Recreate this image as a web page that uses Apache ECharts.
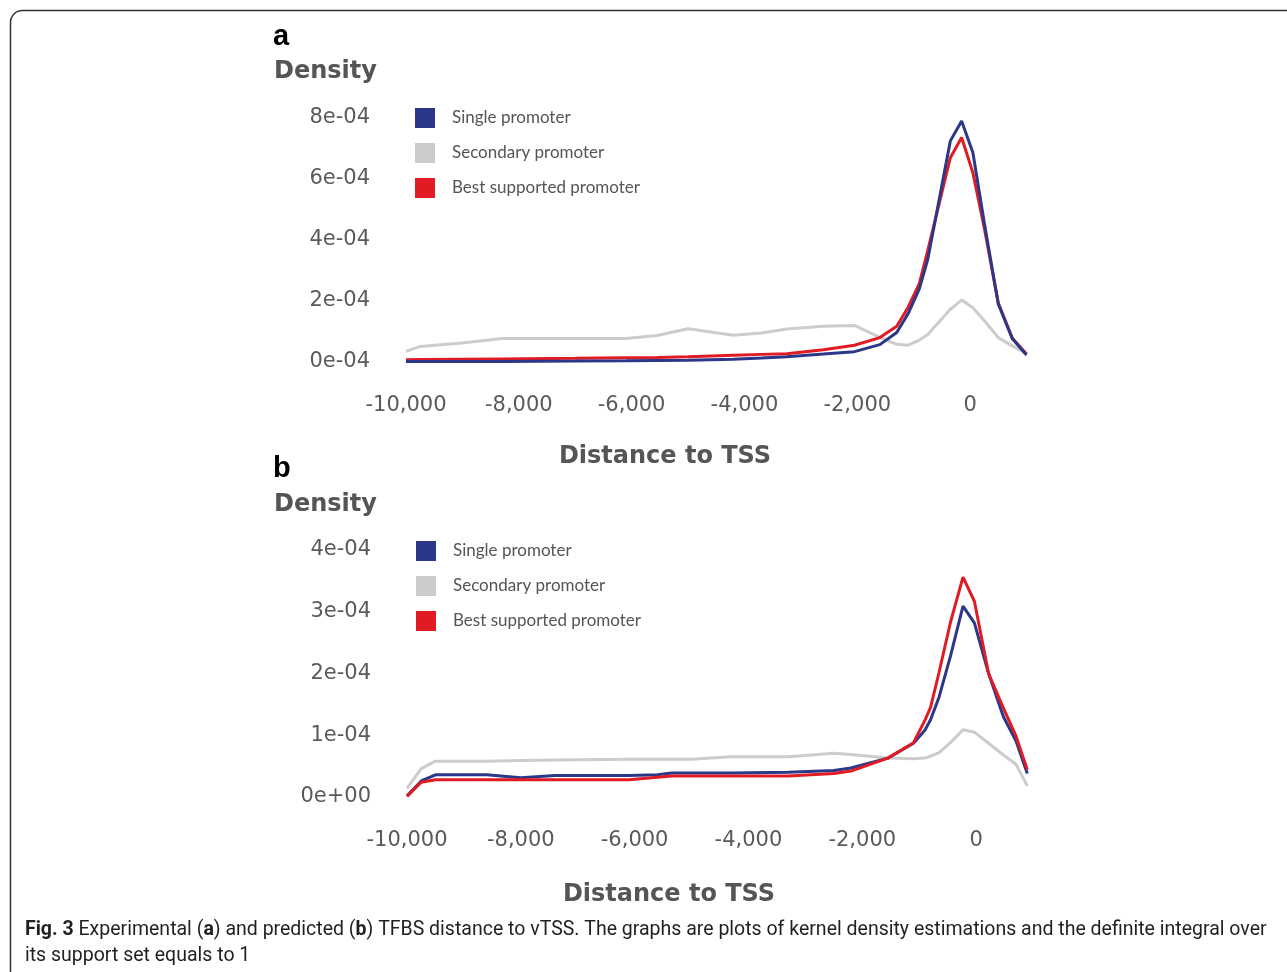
<!DOCTYPE html>
<html>
<head>
<meta charset="utf-8">
<title>TFBS distance to vTSS</title>
<script src="https://cdn.jsdelivr.net/npm/echarts@6/dist/echarts.min.js"></script>
<style>
html, body { margin: 0; padding: 0; background: #fff; }
#main { width: 1287px; height: 972px; }
</style>
</head>
<body>
<div id="main"></div>
<script>
// density values are in units of 1e-4
var names = ['Single promoter', 'Secondary promoter', 'Best supported promoter'];

// panel a: experimental
var aDist = [-10000, -9750, -9000, -8300, -7000, -6100, -5550, -5000, -4200, -3700, -3250, -2600, -2050,
             -1600, -1300, -1100, -900, -750, -600, -350, -150, 50, 250, 500, 750, 1000];
var aSingle = [0.02, 0.02, 0.02, 0.02, 0.03, 0.04, 0.05, 0.06, 0.09, 0.13, 0.17, 0.26, 0.34,
               0.57, 0.97, 1.58, 2.4, 3.37, 4.82, 7.25, 7.9, 6.86, 4.58, 1.9, 0.76, 0.23];
var aSecondary = [0.35, 0.51, 0.62, 0.77, 0.77, 0.77, 0.87, 1.09, 0.88, 0.95, 1.08, 1.17, 1.2,
                  0.81, 0.58, 0.55, 0.72, 0.9, 1.21, 1.73, 2.03, 1.78, 1.36, 0.8, 0.53, 0.28];
var aBest = [0.07, 0.08, 0.09, 0.1, 0.12, 0.14, 0.15, 0.17, 0.22, 0.25, 0.27, 0.4, 0.55,
             0.8, 1.17, 1.79, 2.57, 3.66, 4.8, 6.7, 7.36, 6.2, 4.41, 1.93, 0.78, 0.26];

// panel b: predicted
var bDist = [-10000, -9750, -9500, -8600, -8000, -7400, -6100, -5600, -5350, -5000, -4300, -3300, -2500,
             -2200, -1550, -1100, -900, -800, -650, -450, -230, -30, 220, 480, 700, 900];
var bSingle = [0.02, 0.26, 0.36, 0.36, 0.31, 0.35, 0.35, 0.36, 0.39, 0.39, 0.39, 0.4, 0.43,
               0.47, 0.63, 0.87, 1.08, 1.25, 1.62, 2.28, 3.09, 2.82, 2.0, 1.3, 0.91, 0.38];
var bSecondary = [0.14, 0.46, 0.58, 0.58, 0.59, 0.6, 0.61, 0.61, 0.61, 0.61, 0.65, 0.65, 0.71,
                  0.69, 0.63, 0.62, 0.63, 0.66, 0.72, 0.88, 1.09, 1.05, 0.87, 0.68, 0.53, 0.18];
var bBest = [0.01, 0.24, 0.28, 0.28, 0.28, 0.28, 0.28, 0.32, 0.34, 0.34, 0.34, 0.34, 0.38,
             0.42, 0.63, 0.88, 1.24, 1.45, 2.02, 2.83, 3.56, 3.17, 2.0, 1.44, 0.99, 0.44];

var aYLabels = ['0e-04', '2e-04', '4e-04', '6e-04', '8e-04'];
var bYLabels = ['0e+00', '1e-04', '2e-04', '3e-04', '4e-04'];
var xLabels = ['-10,000', '-8,000', '-6,000', '-4,000', '-2,000', '0'];

var colors = { single: '#2b3788', secondary: '#cccccc', best: '#e01b24' };
var grey = '#555555';
var tickFont = 'DejaVu Sans';
var headFont = 'DejaVu Sans';

function pairs(xs, ys) {
  return xs.map(function (x, i) { return [x, ys[i]]; });
}

function xAxis(idx) {
  return {
    type: 'value', gridIndex: idx, min: -10000, max: 1000, interval: 2000,
    axisLine: { show: false }, axisTick: { show: false }, splitLine: { show: false },
    axisLabel: {
      margin: 33, color: '#5a5a5a', fontFamily: tickFont, fontSize: 21, showMaxLabel: false,
      formatter: function (v) { return xLabels[(v + 10000) / 2000] || ''; }
    }
  };
}

function yAxis(idx, max, step, labels) {
  return {
    type: 'value', gridIndex: idx, min: 0, max: max, interval: step,
    axisLine: { show: false }, axisTick: { show: false }, splitLine: { show: false },
    axisLabel: {
      margin: 36, color: '#5a5a5a', fontFamily: tickFont, fontSize: 21, padding: [5, 0, 0, 0],
      formatter: function (v) { return labels[Math.round(v / step)]; }
    }
  };
}

function line(name, idx, data, color, z) {
  return {
    name: name, type: 'line', xAxisIndex: idx, yAxisIndex: idx, data: data,
    showSymbol: false, symbol: 'none', z: z,
    lineStyle: { color: color, width: 3 }, itemStyle: { color: color }
  };
}

function legend(left, top) {
  return {
    data: names, left: left, top: top, orient: 'vertical', padding: 0,
    icon: 'rect', itemWidth: 20, itemHeight: 20, itemGap: 15,
    textStyle: { color: grey, fontFamily: 'Lato', fontSize: 17, padding: [2, 0, 0, 12] }
  };
}

function label(x, y, text, size, color, family, align) {
  return {
    type: 'text', x: x, y: y, silent: true,
    style: { text: text, fill: color, font: 'bold ' + size + 'px "' + family + '"', align: align || 'left', verticalAlign: 'top' }
  };
}

var chart = echarts.init(document.getElementById('main'));

chart.setOption({
  animation: false,
  grid: [
    { left: 406, right: 260.5, top: 118, height: 244 },
    { left: 407, right: 254, top: 550, height: 247 }
  ],
  xAxis: [xAxis(0), xAxis(1)],
  yAxis: [yAxis(0, 8, 2, aYLabels), yAxis(1, 4, 1, bYLabels)],
  legend: [legend(415, 108), legend(416, 541)],
  series: [
    line(names[1], 0, pairs(aDist, aSecondary), colors.secondary, 1),
    line(names[2], 0, pairs(aDist, aBest), colors.best, 2),
    line(names[0], 0, pairs(aDist, aSingle), colors.single, 3),
    line(names[1], 1, pairs(bDist, bSecondary), colors.secondary, 1),
    line(names[0], 1, pairs(bDist, bSingle), colors.single, 2),
    line(names[2], 1, pairs(bDist, bBest), colors.best, 3)
  ],
  graphic: [
    { type: 'rect', shape: { x: 10.5, y: 10.5, width: 1320, height: 1020, r: 12 },
      style: { fill: 'none', stroke: '#333', lineWidth: 1.5 }, silent: true },
    label(273, 22, 'a', 29, '#000', 'Liberation Sans'),
    label(274, 60, 'Density', 24, grey, headFont),
    label(665, 445, 'Distance to TSS', 24, grey, headFont, 'center'),
    label(273, 454, 'b', 29, '#000', 'Liberation Sans'),
    label(274, 493, 'Density', 24, grey, headFont),
    label(669, 883, 'Distance to TSS', 24, grey, headFont, 'center'),
    { type: 'text', x: 25, y: 943, silent: true,
      style: {
        text: '{b|Fig. 3} Experimental ({b|a}) and predicted ({b|b}) TFBS distance to vTSS. The graphs are plots of kernel density estimations and the definite integral over\nits support set equals to 1',
        fill: '#231f20', fontFamily: 'Roboto', fontSize: 19.5, lineHeight: 26,
        verticalAlign: 'middle',
        rich: { b: { fontWeight: 'bold', fontFamily: 'Roboto', fontSize: 19.5, fill: '#231f20' } }
      } }
  ]
});
</script>
</body>
</html>
